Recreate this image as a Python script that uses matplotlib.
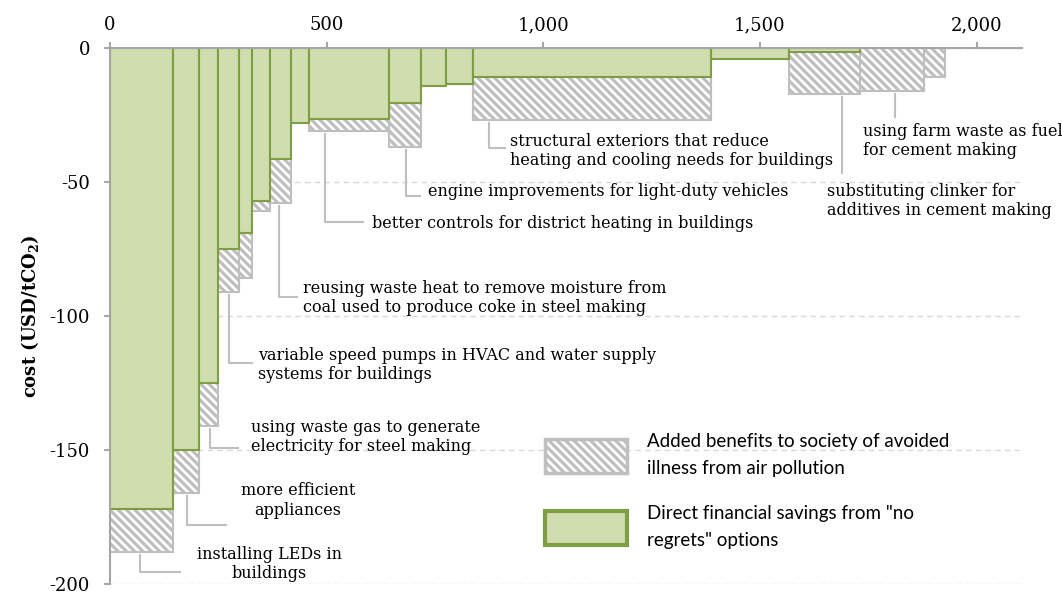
import numpy as np
import matplotlib
matplotlib.use("Agg")
import matplotlib.pyplot as plt
from matplotlib.patches import Patch
from matplotlib.ticker import FuncFormatter

# abatement potential of each option (MtCO2) and cost (USD/tCO2)
widths = [145, 60, 45, 48, 30, 41, 49, 41, 186, 73, 58, 61, 550, 180, 163, 148, 49]
direct = [-172, -150, -125, -75, -69, -57, -41.5, -28, -26.5, -20.5, -14, -13.5,
          -11, -4.2, -1.4, 0, 0]
with_health = [-188, -166, -141, -91, -86, -61, -58, -28, -31, -37, -14, -13.5,
               -27, -4.2, -17.3, -16, -11]

x_ticks = [0, 500, 1000, 1500, 2000]
y_ticks = [0, -50, -100, -150, -200]

# labelled options: bar index, label text
labels = [
    (0, "installing LEDs in\nbuildings"),
    (1, "more efficient\nappliances"),
    (2, "using waste gas to generate\nelectricity for steel making"),
    (3, "variable speed pumps in HVAC and water supply\nsystems for buildings"),
    (6, "reusing waste heat to remove moisture from\ncoal used to produce coke in steel making"),
    (8, "better controls for district heating in buildings"),
    (9, "engine improvements for light-duty vehicles"),
    (12, "structural exteriors that reduce\nheating and cooling needs for buildings"),
    (14, "substituting clinker for\nadditives in cement making"),
    (15, "using farm waste as fuel\nfor cement making"),
]
# leader layout: leader x, elbow y, end x of horizontal, text x, text y, ha
leaders = [
    (69, -195.4, 161, 368, -192.5, "center"),
    (177, -178, 268, 434, -168.8, "center"),
    (231, -149.3, 295, 325, -145.1, "left"),
    (275, -117.5, 328, 341, -118.3, "left"),
    (390, -92.8, 431, 445, -93.3, "left"),
    (496, -64.9, 584, 605, -65.3, "left"),
    (682, -55.1, 715, 734, -53.7, "left"),
    (875, -37.4, 911, 923, -38.4, "left"),
    (1689, -46.8, None, 1654, -57.1, "left"),
    (1811, -25.6, None, 1737, -34.7, "left"),
]

GREEN = '#d0ddae'
GREEN_EDGE = '#7f9d45'
GREY = '#bfbfbf'
AXIS = '#a6a6a6'

plt.rcParams['hatch.linewidth'] = 2.3
plt.rcParams['font.family'] = 'DejaVu Serif'
plt.rcParams['axes.unicode_minus'] = False

fig = plt.figure(figsize=(10.62, 5.94), dpi=100)
ax = fig.add_axes([0.1036, 0.0168, 0.8588, 0.9024])

lefts = np.concatenate([[0], np.cumsum(widths)[:-1]])

# health benefits (hatched) below the direct savings
ax.bar(lefts, np.array(with_health) - np.array(direct), width=widths, bottom=direct,
       align='edge', facecolor='white', edgecolor=GREY, hatch='\\\\\\\\', lw=1.5, zorder=2)
ax.bar(lefts, direct, width=widths, align='edge', facecolor=GREEN,
       edgecolor=GREEN_EDGE, lw=1.5, zorder=3)

for (i, txt), (lx, ey, hx, tx, ty, ha) in zip(labels, leaders):
    y0 = with_health[i] - 1
    if hx is None:
        ax.plot([lx, lx], [y0, ey], color=GREY, lw=1.5, zorder=1)
    else:
        ax.plot([lx, lx, hx], [y0, ey, ey], color=GREY, lw=1.5, zorder=1)
    ax.text(tx, ty, txt, ha=ha, va='center', fontsize=11.5, color='black',
            multialignment=ha)

ax.set_xlim(0, 2105)
ax.set_ylim(-200, 0)
ax.set_xticks(x_ticks)
ax.set_yticks(y_ticks)
ax.xaxis.set_major_formatter(FuncFormatter(lambda v, p: f"{int(v):,}"))
ax.xaxis.tick_top()
ax.tick_params(axis='both', colors=AXIS, labelcolor='black', width=1.5, length=4.5,
               labelsize=13)
ax.tick_params(axis='x', pad=5.5)
ax.tick_params(axis='y', pad=10)
for s in ['bottom', 'right']:
    ax.spines[s].set_visible(False)
for s in ['top', 'left']:
    ax.spines[s].set_color(AXIS)
    ax.spines[s].set_linewidth(1.5)
    ax.spines[s].set_zorder(5)

ax.set_axisbelow(True)
ax.yaxis.grid(True, ls=(0, (4, 3)), color='#d9d9d9', lw=1)
ax.set_ylabel("cost (USD/tCO$_\\mathregular{2}$)", fontsize=13, fontweight='bold',
              labelpad=6)

handles = [Patch(facecolor='white', edgecolor=GREY, hatch='\\\\\\\\', lw=2.5),
           Patch(facecolor=GREEN, edgecolor=GREEN_EDGE, lw=3)]
leg = ax.legend(handles, ["Added benefits to society of avoided\nillness from air pollution",
                          "Direct financial savings from \"no\nregrets\" options"],
                loc='upper left', bbox_to_anchor=(545 / 1062, 1 - 433 / 594),
                bbox_transform=fig.transFigure, frameon=False,
                prop={'family': 'Lato', 'size': 13.5}, handlelength=4.35,
                handleheight=2.35, handletextpad=1.07, labelspacing=1.5,
                borderpad=0, borderaxespad=0)
for t in leg.get_texts():
    t.set_linespacing(1.7)

fig.savefig("out.png", dpi=100)
